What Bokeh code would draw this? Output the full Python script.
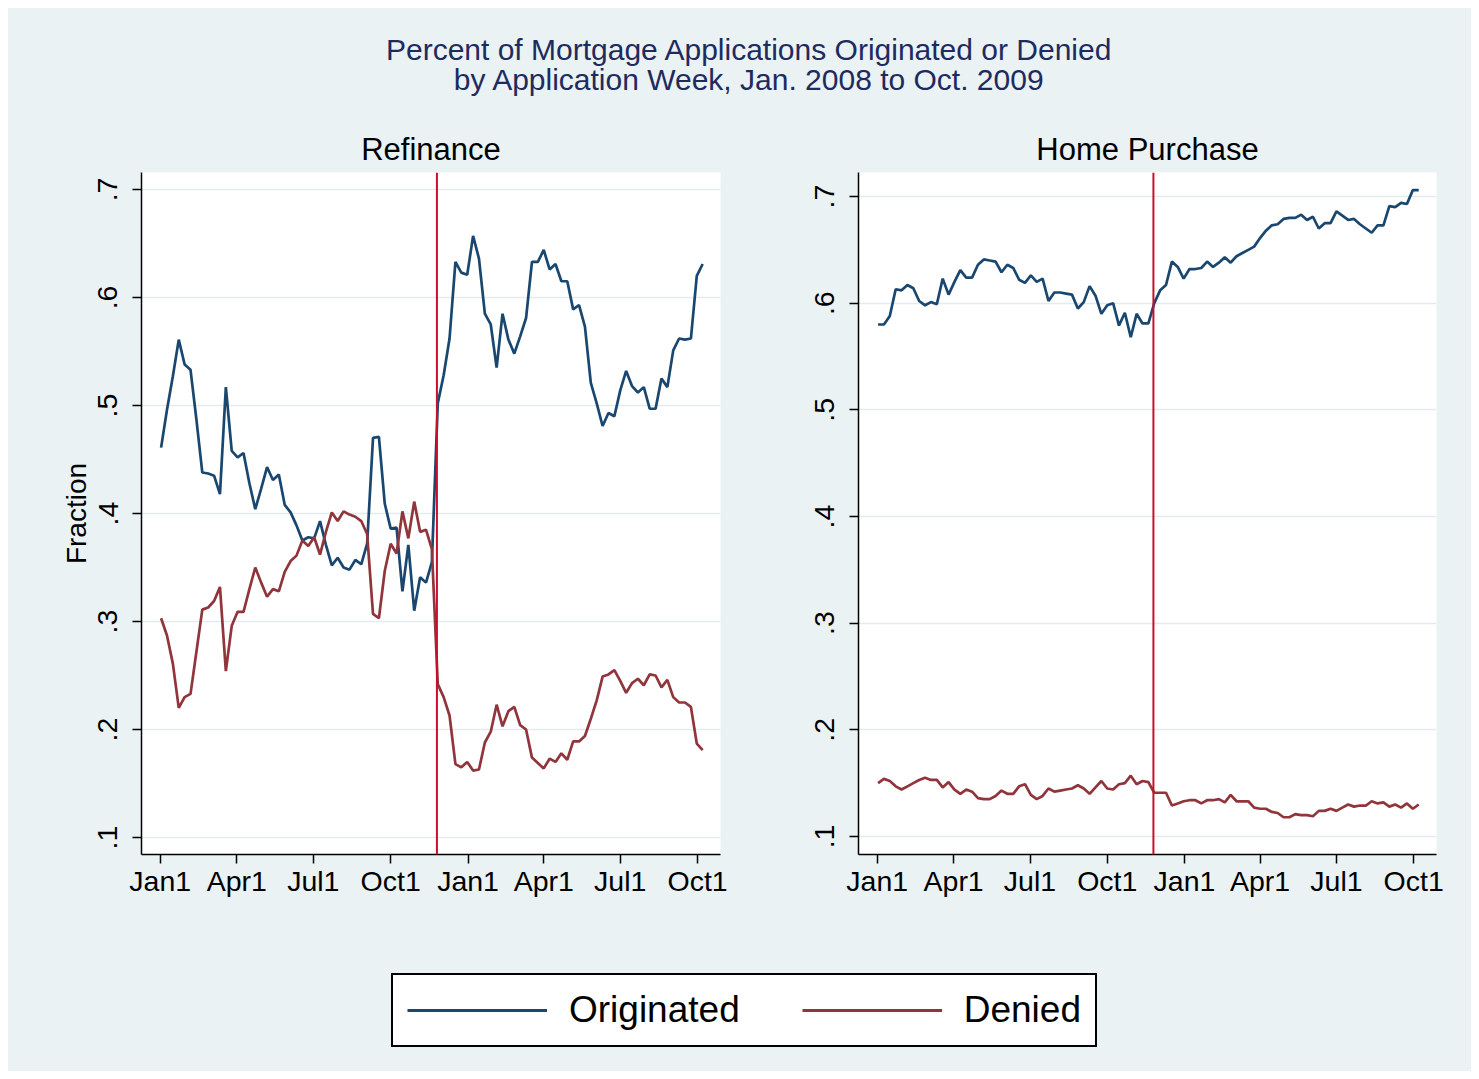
import pandas as pd
from bokeh.plotting import figure
from bokeh.models import Range1d, FixedTicker, Span, Legend, LegendItem, Label
from bokeh.layouts import column, row
from bokeh.embed import file_html
from bokeh.resources import INLINE

# ---------------- data ----------------
week_start = "2008-01-02"
n_weeks = 93
weeks = pd.date_range(week_start, periods=n_weeks, freq="7D")

refi_originated = [
    0.461, 0.496, 0.527, 0.561, 0.538, 0.533, 0.487, 0.438, 0.437, 0.435,
    0.418, 0.517, 0.458, 0.452, 0.456, 0.428, 0.404, 0.423, 0.443, 0.431,
    0.436, 0.408, 0.401, 0.389, 0.375, 0.378, 0.377, 0.393, 0.371, 0.352,
    0.359, 0.350, 0.348, 0.357, 0.353, 0.372, 0.470, 0.471, 0.409, 0.386,
    0.387, 0.328, 0.371, 0.310, 0.341, 0.336, 0.355, 0.502, 0.528, 0.562,
    0.633, 0.623, 0.621, 0.657, 0.636, 0.585, 0.575, 0.535, 0.585, 0.561,
    0.548, 0.564, 0.581, 0.633, 0.633, 0.644, 0.626, 0.631, 0.615, 0.615,
    0.589, 0.593, 0.573, 0.521, 0.502, 0.481, 0.493, 0.490, 0.514, 0.532,
    0.518, 0.512, 0.517, 0.497, 0.497, 0.525, 0.517, 0.551, 0.562, 0.561,
    0.562, 0.620, 0.631,
]
refi_denied = [
    0.303, 0.287, 0.261, 0.220, 0.230, 0.233, 0.272, 0.311, 0.313, 0.319,
    0.332, 0.254, 0.296, 0.309, 0.309, 0.330, 0.350, 0.336, 0.323, 0.330,
    0.328, 0.346, 0.356, 0.361, 0.375, 0.370, 0.378, 0.362, 0.383, 0.401,
    0.393, 0.402, 0.399, 0.397, 0.393, 0.381, 0.307, 0.303, 0.347, 0.372,
    0.363, 0.402, 0.377, 0.411, 0.383, 0.385, 0.367, 0.242, 0.230, 0.213,
    0.168, 0.165, 0.170, 0.162, 0.163, 0.188, 0.198, 0.223, 0.203, 0.217,
    0.221, 0.204, 0.200, 0.174, 0.169, 0.164, 0.173, 0.170, 0.178, 0.172,
    0.189, 0.189, 0.194, 0.210, 0.227, 0.249, 0.251, 0.255, 0.245, 0.234,
    0.243, 0.247, 0.241, 0.251, 0.250, 0.239, 0.246, 0.230, 0.225, 0.225,
    0.221, 0.187, 0.181,
]
purchase_originated = [
    0.580, 0.580, 0.588, 0.613, 0.612, 0.617, 0.614, 0.602, 0.598, 0.601,
    0.599, 0.623, 0.608, 0.620, 0.631, 0.624, 0.624, 0.636, 0.641, 0.640,
    0.639, 0.629, 0.636, 0.633, 0.622, 0.619, 0.626, 0.620, 0.623, 0.602,
    0.610, 0.610, 0.609, 0.608, 0.595, 0.601, 0.616, 0.607, 0.590, 0.598,
    0.600, 0.579, 0.591, 0.568, 0.590, 0.581, 0.581, 0.600, 0.612, 0.617,
    0.639, 0.634, 0.623, 0.632, 0.632, 0.633, 0.639, 0.634, 0.638, 0.643,
    0.638, 0.644, 0.647, 0.650, 0.653, 0.661, 0.668, 0.673, 0.674, 0.679,
    0.680, 0.680, 0.683, 0.678, 0.681, 0.670, 0.675, 0.675, 0.686, 0.682,
    0.678, 0.679, 0.674, 0.670, 0.666, 0.673, 0.673, 0.691, 0.690, 0.694,
    0.693, 0.706, 0.706,
]
purchase_denied = [
    0.150, 0.154, 0.152, 0.147, 0.144, 0.147, 0.150, 0.153, 0.155, 0.153,
    0.153, 0.146, 0.151, 0.144, 0.140, 0.144, 0.142, 0.136, 0.135, 0.135,
    0.138, 0.143, 0.140, 0.140, 0.147, 0.149, 0.139, 0.135, 0.138, 0.145,
    0.142, 0.143, 0.144, 0.145, 0.148, 0.145, 0.140, 0.146, 0.152, 0.145,
    0.144, 0.149, 0.150, 0.157, 0.149, 0.152, 0.151, 0.141, 0.141, 0.141,
    0.129, 0.131, 0.133, 0.134, 0.134, 0.131, 0.134, 0.134, 0.135, 0.132,
    0.139, 0.133, 0.133, 0.133, 0.127, 0.126, 0.126, 0.123, 0.122, 0.118,
    0.118, 0.121, 0.120, 0.120, 0.119, 0.124, 0.124, 0.126, 0.124, 0.127,
    0.130, 0.128, 0.129, 0.129, 0.133, 0.131, 0.132, 0.128, 0.130, 0.127,
    0.131, 0.126, 0.130,
]

tick_dates = ["2008-01-01", "2008-04-01", "2008-07-01", "2008-10-01",
              "2009-01-01", "2009-04-01", "2009-07-01", "2009-10-01"]
tick_labels = ["Jan1", "Apr1", "Jul1", "Oct1", "Jan1", "Apr1", "Jul1", "Oct1"]
y_ticks = [0.1, 0.2, 0.3, 0.4, 0.5, 0.6, 0.7]
y_tick_labels = [".1", ".2", ".3", ".4", ".5", ".6", ".7"]
event_date = "2008-11-25"

title_line1 = "Percent of Mortgage Applications Originated or Denied"
title_line2 = "by Application Week, Jan. 2008 to Oct. 2009"

# ---------------- style ----------------
BG = "#EAF2F3"
NAVY = "#1A476F"
MAROON = "#90353B"
EVENT = "#C8102E"
GRID = "#E3EBEF"
TITLE_C = "#1E2B5E"
FONT = "Liberation Sans"
LW = 2.7


def ms(d):
    return pd.Timestamp(d).value / 1e6


DAY = 86400000.0
x0 = ms("2008-01-01") - 22.3 * DAY
x1 = ms("2008-01-01") + 666.2 * DAY
tick_ms = [ms(d) for d in tick_dates]


def panel(title, orig, den, y0, y1, fw, bl, br, ylabel=None):
    p = figure(frame_width=fw, frame_height=682, x_axis_type="datetime",
               x_range=Range1d(x0, x1), y_range=Range1d(y0, y1),
               toolbar_location=None, output_backend="svg",
               min_border_left=bl, min_border_right=br,
               min_border_top=57, min_border_bottom=76,
               background_fill_color="white", border_fill_color=BG,
               outline_line_color=None, title=title)
    p.title.align = "center"
    p.title.text_font = FONT
    p.title.text_font_size = "31px"
    p.title.text_font_style = "normal"
    p.title.text_color = "black"
    p.title.standoff = 12

    p.line(weeks, orig, line_color=NAVY, line_width=LW)
    p.line(weeks, den, line_color=MAROON, line_width=LW)
    p.add_layout(Span(location=ms(event_date), dimension="height",
                      line_color=EVENT, line_width=2))

    p.xaxis.ticker = FixedTicker(ticks=tick_ms)
    p.xaxis.major_label_overrides = {t: l for t, l in zip(tick_ms, tick_labels)}
    p.yaxis.ticker = FixedTicker(ticks=y_ticks)
    p.yaxis.major_label_overrides = {t: l for t, l in zip(y_ticks, y_tick_labels)}
    p.yaxis.major_label_orientation = "vertical"
    for ax in (p.xaxis, p.yaxis):
        ax.axis_line_color = "black"
        ax.axis_line_width = 1.5
        ax.major_tick_line_color = "black"
        ax.major_tick_line_width = 1.5
        ax.major_tick_out = 9
        ax.major_tick_in = 0
        ax.minor_tick_line_color = None
        ax.major_label_text_font = FONT
        ax.major_label_text_font_size = "28.5px"
        ax.major_label_text_color = "black"
    p.xaxis.major_label_standoff = 1
    p.yaxis.major_label_standoff = 15
    if ylabel:
        p.yaxis.axis_label = ylabel
        p.yaxis.axis_label_text_font = FONT
        p.yaxis.axis_label_text_font_size = "28px"
        p.yaxis.axis_label_text_font_style = "normal"
        p.yaxis.axis_label_text_color = "black"
        p.yaxis.axis_label_standoff = 4
    p.xgrid.visible = False
    p.ygrid.grid_line_color = GRID
    p.ygrid.grid_line_width = 1.5
    return p


left = panel("Refinance", refi_originated, refi_denied, 0.0843, 0.7157,
             579, 133, 70, "Fraction")
right = panel("Home Purchase", purchase_originated, purchase_denied,
              0.0831, 0.7225, 578, 68, 35)

# ---------------- main title ----------------
tf = figure(width=1463, height=107, x_range=Range1d(0, 1463), y_range=Range1d(0, 107),
            x_axis_location=None, y_axis_location=None, min_border=0,
            toolbar_location=None, output_backend="svg",
            background_fill_color=BG, border_fill_color=BG, outline_line_color=None)
tf.grid.visible = False
for txt, yy in ((title_line1, 66), (title_line2, 36)):
    tf.add_layout(Label(x=741, y=yy, text=txt, text_align="center",
                        text_baseline="middle", text_font=FONT,
                        text_font_size="30px", text_color=TITLE_C))

# ---------------- legend ----------------
lf = figure(width=1463, height=141, x_range=Range1d(0, 1), y_range=Range1d(0, 1),
            x_axis_location=None, y_axis_location=None, min_border=0,
            toolbar_location=None, output_backend="svg",
            background_fill_color=BG, border_fill_color=BG, outline_line_color=None)
lf.grid.visible = False
# legend keys (series data lie outside this strip's ranges, only the keys show)
r1 = lf.line(weeks, refi_originated, line_color=NAVY, line_width=3)
r2 = lf.line(weeks, refi_denied, line_color=MAROON, line_width=3)
legend = Legend(items=[LegendItem(label="Originated", renderers=[r1]),
                       LegendItem(label="Denied", renderers=[r2])],
                orientation="horizontal", location=(383, 24),
                label_text_font=FONT, label_text_font_size="37px",
                label_text_color="black",
                glyph_width=140, glyph_height=20, label_standoff=22,
                spacing=62, padding=14, margin=0,
                border_line_color="black", border_line_width=2,
                border_line_alpha=1,
                background_fill_color="white", background_fill_alpha=1)
lf.add_layout(legend)

layout = column(tf, row(left, right, styles={"background-color": BG}), lf,
                margin=(8, 8, 8, 8), styles={"background-color": BG})
open("out.html", "w").write(file_html(layout, INLINE))
